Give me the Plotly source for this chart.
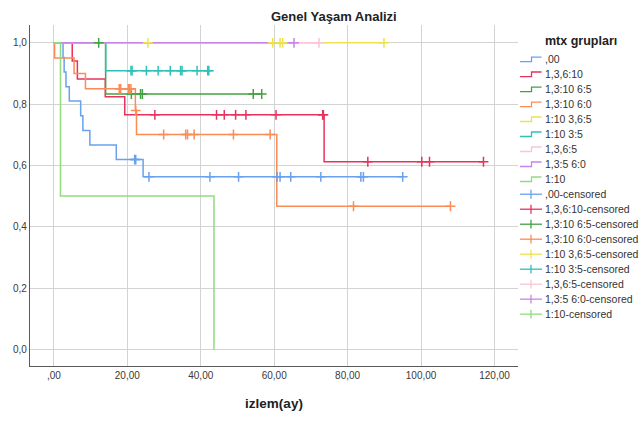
import plotly.graph_objects as go

# Kaplan-Meier survival curves by methotrexate group
groups = [",00", "1,3,6:10", "1,3:10 6:5", "1,3:10 6:0", "1:10 3,6:5",
          "1:10 3:5", "1,3,6:5", "1,3:5 6:0", "1:10"]
colors = ["#6aa1ee", "#e8325e", "#46a046", "#fb8c55", "#ece24f",
          "#2fc1b5", "#f8c6d4", "#c784e8", "#92db7f"]

# step points: time (months) and survival from that time on
t_00 = [0, 2.5, 2.8, 3.3, 4.2, 7.3, 7.9, 9.8, 17.0, 24.3, 95.0]
s_00 = [1.0, 0.952, 0.905, 0.857, 0.810, 0.762, 0.714, 0.667, 0.619, 0.563, 0.563]
c_00 = [22.0, 22.3, 25.9, 42.5, 50.3, 60.8, 61.6, 64.5, 72.7, 83.6, 84.3, 95.0]

t_a = [0, 5.0, 6.4, 14.0, 19.3, 73.6, 117.0]
s_a = [1.0, 0.941, 0.882, 0.824, 0.765, 0.612, 0.612]
c_a = [27.5, 44.3, 46.4, 49.5, 52.3, 60.5, 73.2, 73.4, 85.5, 100.2, 102.3, 117.0]

t_b = [0, 14.1, 56.6]
s_b = [1.0, 0.833, 0.833]
c_b = [12.2, 21.1, 23.6, 24.1, 54.3, 56.6]

t_c = [0, 0.2, 5.5, 8.6, 22.2, 22.5, 60.7, 108.0]
s_c = [1.0, 0.95, 0.90, 0.85, 0.779, 0.701, 0.467, 0.467]
c_c = [17.8, 18.2, 20.3, 20.6, 21.0, 22.3, 29.9, 35.9, 36.4, 38.2, 48.9, 58.9,
       81.6, 108.0]

t_d = [0, 89.9]
s_d = [1.0, 1.0]
c_d = [25.6, 59.6, 61.6, 62.3, 89.9]

t_e = [0, 14.1, 42.2]
s_e = [1.0, 0.909, 0.909]
c_e = [21.0, 21.3, 25.2, 28.4, 31.7, 34.5, 34.9, 39.0, 41.9, 42.2]

t_f = [0, 72.2]
s_f = [1.0, 1.0]
c_f = [72.2]

t_g = [0, 65.4]
s_g = [1.0, 1.0]
c_g = [65.4]

t_h = [0, 1.8, 43.6]
s_h = [1.0, 0.5, 0.0]
c_h = []

curves = [(t_00, s_00, c_00), (t_a, s_a, c_a), (t_b, s_b, c_b), (t_c, s_c, c_c),
          (t_d, s_d, c_d), (t_e, s_e, c_e), (t_f, s_f, c_f), (t_g, s_g, c_g),
          (t_h, s_h, c_h)]

x_ticks = [0, 20, 40, 60, 80, 100, 120]
x_labels = [",00", "20,00", "40,00", "60,00", "80,00", "100,00", "120,00"]
y_ticks = [0, 0.2, 0.4, 0.6, 0.8, 1.0]
y_labels = ["0,0", "0,2", "0,4", "0,6", "0,8", "1,0"]


def surv_at(times, surv, t):
    val = surv[0]
    for ti, si in zip(times, surv):
        if ti <= t:
            val = si
    return val


FONT = "Liberation Sans, Arial, sans-serif"
W, H = 643, 421
ML, MR, MT, MB = 30, 125, 25, 48
PW, PH = W - ML - MR, H - MT - MB

fig = go.Figure()

for name, col, (t, s, _) in zip(groups, colors, curves):
    fig.add_trace(go.Scatter(x=t, y=s, mode="lines", name=name,
                             line=dict(color=col, width=1.5, shape="hv"),
                             showlegend=False, hoverinfo="skip"))

for name, col, (t, s, c) in zip(groups, colors, curves):
    fig.add_trace(go.Scatter(x=c, y=[surv_at(t, s, v) for v in c], mode="markers",
                             name=name + "-censored", showlegend=False,
                             marker=dict(symbol="cross-thin", size=7,
                                         line=dict(color=col, width=1.5))))


def px(xp):
    return (xp - ML) / PW


def py(yp):
    return (H - MB - yp) / PH


# legend panel
shapes = []
annotations = [dict(text="<b>mtx grupları</b>", x=px(581), y=py(41), xref="paper",
                    yref="paper", showarrow=False, xanchor="center", yanchor="middle",
                    font=dict(family=FONT, size=12.5, color="#222"))]
labels = groups + [g + "-censored" for g in groups]
row0, step = 60, 15.3
for i, lab in enumerate(labels):
    yc = row0 + i * step
    col = colors[i % len(groups)]
    if i < len(groups):
        path = "M {:.4f},{:.4f} H {:.4f} V {:.4f} H {:.4f}".format(
            px(520), py(yc + 2.3), px(531.5), py(yc - 2.3), px(541.5))
        shapes.append(dict(type="path", path=path, xref="paper", yref="paper",
                           line=dict(color=col, width=1.3)))
    else:
        shapes.append(dict(type="line", x0=px(520), x1=px(542), y0=py(yc), y1=py(yc),
                           xref="paper", yref="paper", line=dict(color=col, width=1.3)))
        shapes.append(dict(type="line", x0=px(531), x1=px(531), y0=py(yc - 4.5),
                           y1=py(yc + 4.5), xref="paper", yref="paper",
                           line=dict(color=col, width=1.3)))
    annotations.append(dict(text=lab, x=px(543), y=py(yc), xref="paper", yref="paper",
                            showarrow=False, xanchor="left", yanchor="middle",
                            font=dict(family=FONT, size=10.5, color="#333")))

fig.update_layout(
    width=W, height=H,
    margin=dict(l=ML, r=MR, t=MT, b=MB),
    paper_bgcolor="white", plot_bgcolor="white",
    font=dict(family=FONT, color="#333"),
    title=dict(text="<b>Genel Yaşam Analizi</b>", x=271 / W, xanchor="left",
               xref="container", y=1 - 16 / H, yref="container", yanchor="middle",
               font=dict(family=FONT, size=13, color="#222")),
    xaxis=dict(range=[-6.5, 126.4], tickvals=x_ticks, ticktext=x_labels,
               showgrid=True, gridcolor="#d3d3d3", gridwidth=1.3, zeroline=False,
               showline=True, linecolor="#5a5a5a", linewidth=1.3, ticks="",
               tickfont=dict(family=FONT, size=10, color="#3a3a3a"),
               title=dict(text="<b>izlem(ay)</b>", standoff=18,
                          font=dict(family=FONT, size=13.5, color="#222"))),
    yaxis=dict(range=[-0.054, 1.058], tickvals=y_ticks, ticktext=y_labels,
               showgrid=True, gridcolor="#d3d3d3", gridwidth=1.3, zeroline=False,
               showline=True, linecolor="#5a5a5a", linewidth=1.3, ticks="",
               tickfont=dict(family=FONT, size=10, color="#3a3a3a")),
    shapes=shapes, annotations=annotations,
)

fig.write_html("out.html")
